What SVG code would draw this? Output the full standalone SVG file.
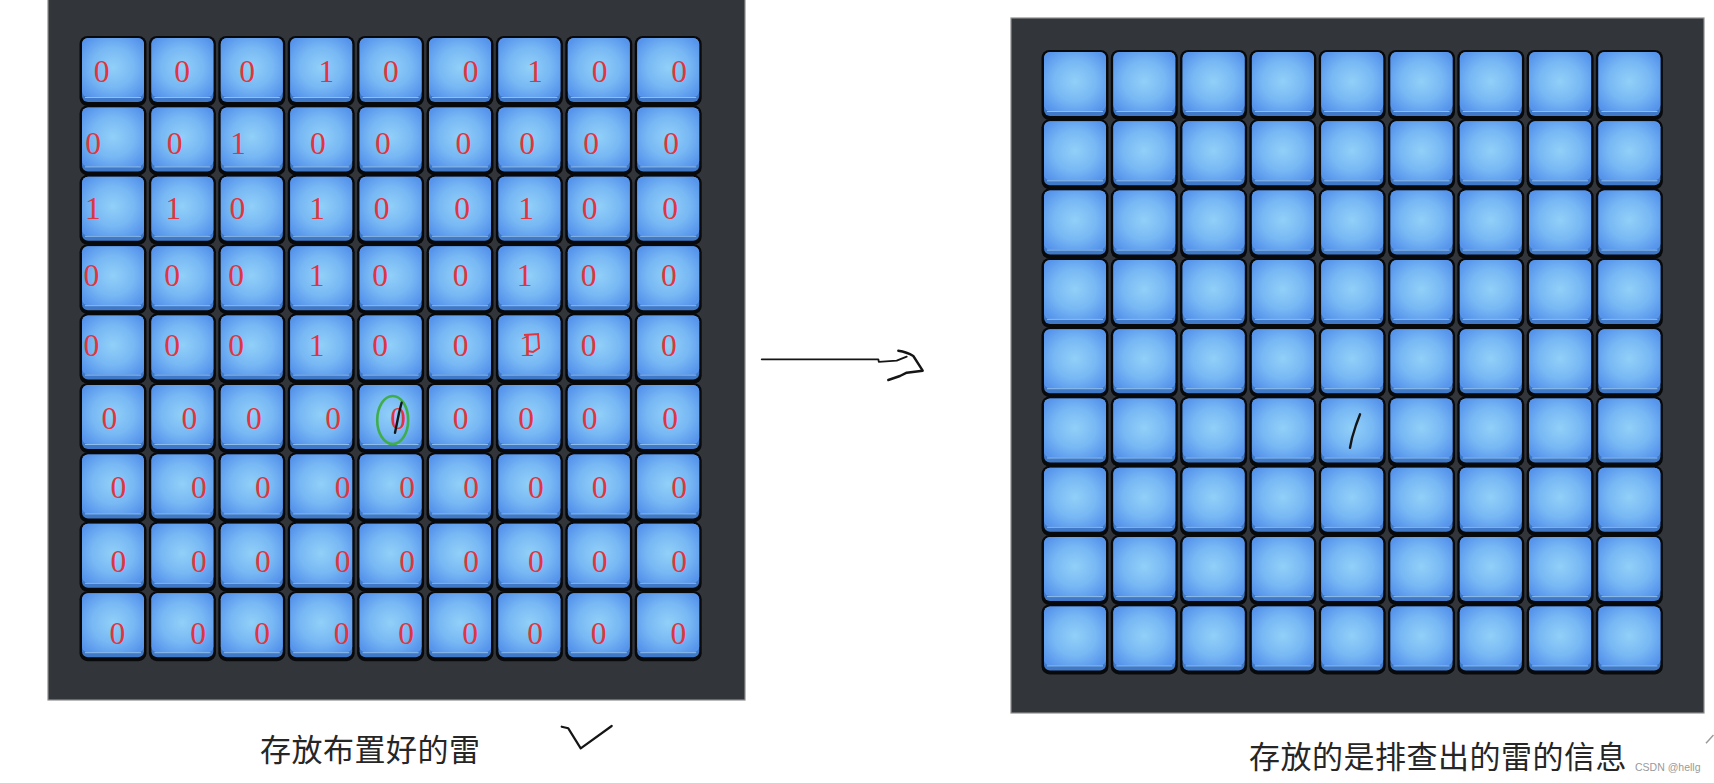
<svg xmlns="http://www.w3.org/2000/svg" xmlns:xlink="http://www.w3.org/1999/xlink" width="1714" height="783" viewBox="0 0 1714 783">
<style>
.board{fill:#32363b;stroke:#8e8e8e;stroke-width:1.2}
.d{font-family:"Liberation Serif","Times New Roman",serif;font-size:31.5px;fill:#e0353c;text-anchor:middle}
.cap{font-family:"Noto Sans CJK SC","Noto Sans",sans-serif;font-size:31px;fill:#262626;letter-spacing:0.5px}
.ink{fill:none;stroke:#151515;stroke-linecap:round;stroke-linejoin:round}
.wm{font-family:"Liberation Sans",Arial,sans-serif;font-size:10.5px;fill:#9a9a9a}
</style>
<defs>
<radialGradient id="tg" cx="50%" cy="50%" r="62%">
<stop offset="0" stop-color="#91d0f8"/>
<stop offset="0.55" stop-color="#78b8f4"/>
<stop offset="1" stop-color="#5795ec"/>
</radialGradient>
<g id="tile">
<rect x="-2.5" y="-2" width="67" height="70" rx="8" fill="#08090b"/>
<rect x="0" y="0" width="62" height="64" rx="6" fill="#3f79c8"/>
<rect x="0" y="0" width="62" height="59" rx="6" fill="url(#tg)"/>
<path d="M3 59.5H59" stroke="#a9d5f7" stroke-width="1" opacity="0.75"/>
</g>
</defs>
<rect width="1714" height="783" fill="#ffffff"/>

<g id="board-left">
<rect class="board" x="48" y="-1" width="697" height="701"/>
<g id="tiles-left">
<use href="#tile" x="82" y="38"/><use href="#tile" x="151.4" y="38"/><use href="#tile" x="220.8" y="38"/><use href="#tile" x="290.2" y="38"/><use href="#tile" x="359.6" y="38"/><use href="#tile" x="429" y="38"/><use href="#tile" x="498.4" y="38"/><use href="#tile" x="567.8" y="38"/><use href="#tile" x="637.2" y="38"/>
<use href="#tile" x="82" y="107.4"/><use href="#tile" x="151.4" y="107.4"/><use href="#tile" x="220.8" y="107.4"/><use href="#tile" x="290.2" y="107.4"/><use href="#tile" x="359.6" y="107.4"/><use href="#tile" x="429" y="107.4"/><use href="#tile" x="498.4" y="107.4"/><use href="#tile" x="567.8" y="107.4"/><use href="#tile" x="637.2" y="107.4"/>
<use href="#tile" x="82" y="176.8"/><use href="#tile" x="151.4" y="176.8"/><use href="#tile" x="220.8" y="176.8"/><use href="#tile" x="290.2" y="176.8"/><use href="#tile" x="359.6" y="176.8"/><use href="#tile" x="429" y="176.8"/><use href="#tile" x="498.4" y="176.8"/><use href="#tile" x="567.8" y="176.8"/><use href="#tile" x="637.2" y="176.8"/>
<use href="#tile" x="82" y="246.2"/><use href="#tile" x="151.4" y="246.2"/><use href="#tile" x="220.8" y="246.2"/><use href="#tile" x="290.2" y="246.2"/><use href="#tile" x="359.6" y="246.2"/><use href="#tile" x="429" y="246.2"/><use href="#tile" x="498.4" y="246.2"/><use href="#tile" x="567.8" y="246.2"/><use href="#tile" x="637.2" y="246.2"/>
<use href="#tile" x="82" y="315.6"/><use href="#tile" x="151.4" y="315.6"/><use href="#tile" x="220.8" y="315.6"/><use href="#tile" x="290.2" y="315.6"/><use href="#tile" x="359.6" y="315.6"/><use href="#tile" x="429" y="315.6"/><use href="#tile" x="498.4" y="315.6"/><use href="#tile" x="567.8" y="315.6"/><use href="#tile" x="637.2" y="315.6"/>
<use href="#tile" x="82" y="385"/><use href="#tile" x="151.4" y="385"/><use href="#tile" x="220.8" y="385"/><use href="#tile" x="290.2" y="385"/><use href="#tile" x="359.6" y="385"/><use href="#tile" x="429" y="385"/><use href="#tile" x="498.4" y="385"/><use href="#tile" x="567.8" y="385"/><use href="#tile" x="637.2" y="385"/>
<use href="#tile" x="82" y="454.4"/><use href="#tile" x="151.4" y="454.4"/><use href="#tile" x="220.8" y="454.4"/><use href="#tile" x="290.2" y="454.4"/><use href="#tile" x="359.6" y="454.4"/><use href="#tile" x="429" y="454.4"/><use href="#tile" x="498.4" y="454.4"/><use href="#tile" x="567.8" y="454.4"/><use href="#tile" x="637.2" y="454.4"/>
<use href="#tile" x="82" y="523.8"/><use href="#tile" x="151.4" y="523.8"/><use href="#tile" x="220.8" y="523.8"/><use href="#tile" x="290.2" y="523.8"/><use href="#tile" x="359.6" y="523.8"/><use href="#tile" x="429" y="523.8"/><use href="#tile" x="498.4" y="523.8"/><use href="#tile" x="567.8" y="523.8"/><use href="#tile" x="637.2" y="523.8"/>
<use href="#tile" x="82" y="593.2"/><use href="#tile" x="151.4" y="593.2"/><use href="#tile" x="220.8" y="593.2"/><use href="#tile" x="290.2" y="593.2"/><use href="#tile" x="359.6" y="593.2"/><use href="#tile" x="429" y="593.2"/><use href="#tile" x="498.4" y="593.2"/><use href="#tile" x="567.8" y="593.2"/><use href="#tile" x="637.2" y="593.2"/>
</g>
<g id="digits-left">
<text class="d" x="101.7" y="82">0</text><text class="d" x="182" y="82">0</text><text class="d" x="247" y="82">0</text><text class="d" x="326.4" y="82">1</text><text class="d" x="390.9" y="82">0</text><text class="d" x="470.6" y="82">0</text><text class="d" x="535" y="82">1</text><text class="d" x="599.5" y="82">0</text><text class="d" x="679.2" y="82">0</text>
<text class="d" x="93" y="153.5">0</text><text class="d" x="174.5" y="153.5">0</text><text class="d" x="238.2" y="153.5">1</text><text class="d" x="317.9" y="153.5">0</text><text class="d" x="382.8" y="153.5">0</text><text class="d" x="463.4" y="153.5">0</text><text class="d" x="527" y="153.5">0</text><text class="d" x="591" y="153.5">0</text><text class="d" x="671.1" y="153.5">0</text>
<text class="d" x="92.8" y="218.5">1</text><text class="d" x="173.3" y="218.5">1</text><text class="d" x="237.3" y="218.5">0</text><text class="d" x="317" y="218.5">1</text><text class="d" x="381.5" y="218.5">0</text><text class="d" x="462" y="218.5">0</text><text class="d" x="526" y="218.5">1</text><text class="d" x="589.6" y="218.5">0</text><text class="d" x="670.2" y="218.5">0</text>
<text class="d" x="91.4" y="285.5">0</text><text class="d" x="172" y="285.5">0</text><text class="d" x="236" y="285.5">0</text><text class="d" x="316.6" y="285.5">1</text><text class="d" x="380" y="285.5">0</text><text class="d" x="460.7" y="285.5">0</text><text class="d" x="524.7" y="285.5">1</text><text class="d" x="588.7" y="285.5">0</text><text class="d" x="668.9" y="285.5">0</text>
<text class="d" x="91.4" y="355.5">0</text><text class="d" x="172" y="355.5">0</text><text class="d" x="236" y="355.5">0</text><text class="d" x="316.6" y="355.5">1</text><text class="d" x="380" y="355.5">0</text><text class="d" x="460.7" y="355.5">0</text><text class="d" x="527" y="355.5">1</text><text class="d" x="588.7" y="355.5">0</text><text class="d" x="668.9" y="355.5">0</text>
<text class="d" x="109.3" y="428.5">0</text><text class="d" x="189.4" y="428.5">0</text><text class="d" x="253.9" y="428.5">0</text><text class="d" x="333.1" y="428.5">0</text><text class="d" x="398" y="428.5">0</text><text class="d" x="460.7" y="428.5">0</text><text class="d" x="526" y="428.5">0</text><text class="d" x="589.6" y="428.5">0</text><text class="d" x="670.2" y="428.5">0</text>
<text class="d" x="118.3" y="497.5">0</text><text class="d" x="198.9" y="497.5">0</text><text class="d" x="262.9" y="497.5">0</text><text class="d" x="342.5" y="497.5">0</text><text class="d" x="407" y="497.5">0</text><text class="d" x="471" y="497.5">0</text><text class="d" x="535.9" y="497.5">0</text><text class="d" x="599.5" y="497.5">0</text><text class="d" x="679.2" y="497.5">0</text>
<text class="d" x="118.3" y="571.5">0</text><text class="d" x="198.9" y="571.5">0</text><text class="d" x="262.9" y="571.5">0</text><text class="d" x="342.5" y="571.5">0</text><text class="d" x="407" y="571.5">0</text><text class="d" x="471" y="571.5">0</text><text class="d" x="535.9" y="571.5">0</text><text class="d" x="599.5" y="571.5">0</text><text class="d" x="679.2" y="571.5">0</text>
<text class="d" x="117.4" y="644">0</text><text class="d" x="198" y="644">0</text><text class="d" x="262" y="644">0</text><text class="d" x="341.6" y="644">0</text><text class="d" x="406" y="644">0</text><text class="d" x="470" y="644">0</text><text class="d" x="535" y="644">0</text><text class="d" x="598.6" y="644">0</text><text class="d" x="678.3" y="644">0</text>
</g>
<g id="marks-left">
<path d="M524 335 L538 334 L539 348 L533 352 L527 351" fill="none" stroke="#e0353c" stroke-width="2"/>
<ellipse cx="392.7" cy="420" rx="15.5" ry="24" fill="none" stroke="#3fae4a" stroke-width="2.6"/>
<path class="ink" d="M401.6 402.7 L399 413 L395 432.7" stroke-width="2.4"/>
</g>
</g>

<g id="board-right">
<rect class="board" x="1011" y="18" width="693" height="695"/>
<g id="tiles-right">
<use href="#tile" x="1044" y="52"/><use href="#tile" x="1113.3" y="52"/><use href="#tile" x="1182.6" y="52"/><use href="#tile" x="1251.9" y="52"/><use href="#tile" x="1321.2" y="52"/><use href="#tile" x="1390.5" y="52"/><use href="#tile" x="1459.8" y="52"/><use href="#tile" x="1529.1" y="52"/><use href="#tile" x="1598.4" y="52"/>
<use href="#tile" x="1044" y="121.3"/><use href="#tile" x="1113.3" y="121.3"/><use href="#tile" x="1182.6" y="121.3"/><use href="#tile" x="1251.9" y="121.3"/><use href="#tile" x="1321.2" y="121.3"/><use href="#tile" x="1390.5" y="121.3"/><use href="#tile" x="1459.8" y="121.3"/><use href="#tile" x="1529.1" y="121.3"/><use href="#tile" x="1598.4" y="121.3"/>
<use href="#tile" x="1044" y="190.6"/><use href="#tile" x="1113.3" y="190.6"/><use href="#tile" x="1182.6" y="190.6"/><use href="#tile" x="1251.9" y="190.6"/><use href="#tile" x="1321.2" y="190.6"/><use href="#tile" x="1390.5" y="190.6"/><use href="#tile" x="1459.8" y="190.6"/><use href="#tile" x="1529.1" y="190.6"/><use href="#tile" x="1598.4" y="190.6"/>
<use href="#tile" x="1044" y="259.9"/><use href="#tile" x="1113.3" y="259.9"/><use href="#tile" x="1182.6" y="259.9"/><use href="#tile" x="1251.9" y="259.9"/><use href="#tile" x="1321.2" y="259.9"/><use href="#tile" x="1390.5" y="259.9"/><use href="#tile" x="1459.8" y="259.9"/><use href="#tile" x="1529.1" y="259.9"/><use href="#tile" x="1598.4" y="259.9"/>
<use href="#tile" x="1044" y="329.2"/><use href="#tile" x="1113.3" y="329.2"/><use href="#tile" x="1182.6" y="329.2"/><use href="#tile" x="1251.9" y="329.2"/><use href="#tile" x="1321.2" y="329.2"/><use href="#tile" x="1390.5" y="329.2"/><use href="#tile" x="1459.8" y="329.2"/><use href="#tile" x="1529.1" y="329.2"/><use href="#tile" x="1598.4" y="329.2"/>
<use href="#tile" x="1044" y="398.5"/><use href="#tile" x="1113.3" y="398.5"/><use href="#tile" x="1182.6" y="398.5"/><use href="#tile" x="1251.9" y="398.5"/><use href="#tile" x="1321.2" y="398.5"/><use href="#tile" x="1390.5" y="398.5"/><use href="#tile" x="1459.8" y="398.5"/><use href="#tile" x="1529.1" y="398.5"/><use href="#tile" x="1598.4" y="398.5"/>
<use href="#tile" x="1044" y="467.8"/><use href="#tile" x="1113.3" y="467.8"/><use href="#tile" x="1182.6" y="467.8"/><use href="#tile" x="1251.9" y="467.8"/><use href="#tile" x="1321.2" y="467.8"/><use href="#tile" x="1390.5" y="467.8"/><use href="#tile" x="1459.8" y="467.8"/><use href="#tile" x="1529.1" y="467.8"/><use href="#tile" x="1598.4" y="467.8"/>
<use href="#tile" x="1044" y="537.1"/><use href="#tile" x="1113.3" y="537.1"/><use href="#tile" x="1182.6" y="537.1"/><use href="#tile" x="1251.9" y="537.1"/><use href="#tile" x="1321.2" y="537.1"/><use href="#tile" x="1390.5" y="537.1"/><use href="#tile" x="1459.8" y="537.1"/><use href="#tile" x="1529.1" y="537.1"/><use href="#tile" x="1598.4" y="537.1"/>
<use href="#tile" x="1044" y="606.4"/><use href="#tile" x="1113.3" y="606.4"/><use href="#tile" x="1182.6" y="606.4"/><use href="#tile" x="1251.9" y="606.4"/><use href="#tile" x="1321.2" y="606.4"/><use href="#tile" x="1390.5" y="606.4"/><use href="#tile" x="1459.8" y="606.4"/><use href="#tile" x="1529.1" y="606.4"/><use href="#tile" x="1598.4" y="606.4"/>
</g>
<path class="ink" d="M1360 414.3 L1356 425 L1352 438 L1350 447.7" stroke-width="2.4"/>
</g>

<g id="connectors">
<path class="ink" d="M761.7 359.3 L878.3 359.3 L878.8 361.8 L896.7 360.7 L906.7 356.7" stroke-width="1.8"/>
<path class="ink" d="M898.3 350.7 Q907 352 913.3 356 L922.7 370.7 L906.7 372.7 L900 376 L888.3 380" stroke-width="2.4"/>
</g>

<g id="labels">
<text class="cap" x="260" y="761">存放布置好的雷</text>
<path class="ink" d="M561.7 726.7 L568.3 728.3 L580.7 748.3 L611.7 726" stroke-width="2.2"/>
<text class="cap" x="1249" y="768">存放的是排查出的雷的信息</text>
<text class="wm" x="1635" y="771">CSDN @hellg</text>
<path d="M1706 743.3 L1713.5 735" fill="none" stroke="#9a9a9a" stroke-width="1.5"/>
</g>
</svg>
